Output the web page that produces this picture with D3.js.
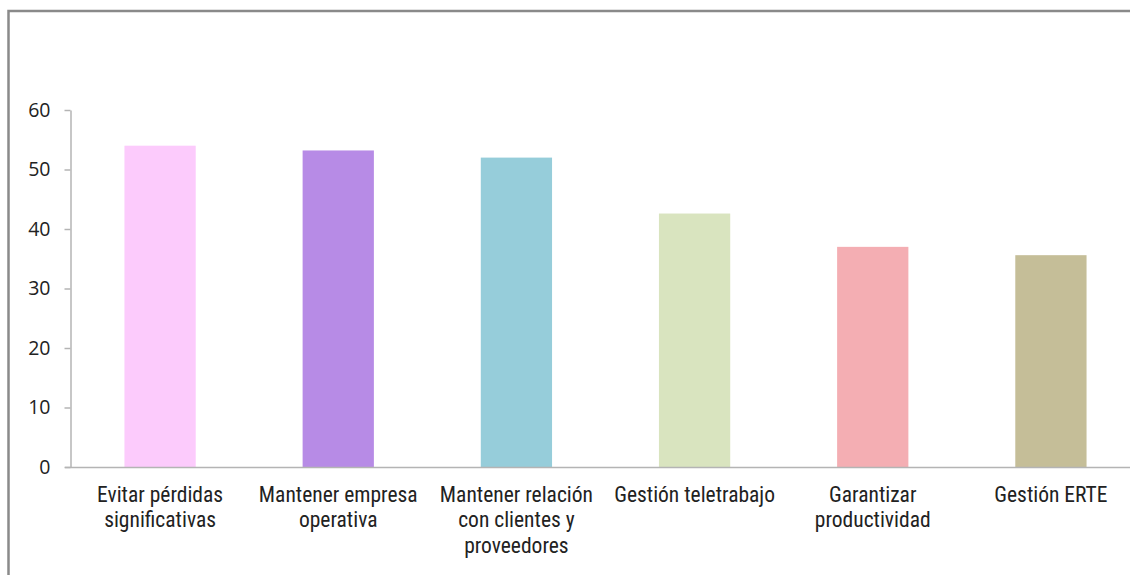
<!DOCTYPE html>
<html>
<head>
<meta charset="utf-8">
<script src="https://cdn.jsdelivr.net/npm/d3@7"></script>
<style>
  html, body { margin: 0; padding: 0; background: #fff; }
  svg { display: block; }
</style>
</head>
<body>
<svg id="chart" width="1130" height="575"></svg>
<script>
// Categories (each label split into its display lines)
const categories = [
  ["Evitar pérdidas", "significativas"],
  ["Mantener empresa", "operativa"],
  ["Mantener relación", "con clientes y", "proveedores"],
  ["Gestión teletrabajo"],
  ["Garantizar", "productividad"],
  ["Gestión ERTE"]
];
const values = [54, 53.2, 52, 42.6, 37, 35.6];
const barColors = ["#fccbfc", "#b78be6", "#96cdda", "#d9e4bf", "#f4aeb3", "#c5be98"];
const yTicks = [0, 10, 20, 30, 40, 50, 60];

const svg = d3.select("#chart");
const W = 1130, H = 575;
const plot = { left: 71, right: 1140, top: 110, bottom: 467 };

// Outer frame (top and left edges)
svg.append("path")
  .attr("d", `M8.5,${H} L8.5,11 L${W},11`)
  .attr("fill", "none")
  .attr("stroke", "#8a8a8a")
  .attr("stroke-width", 2.5);

const keys = categories.map((c, i) => i);
const x = d3.scaleBand().domain(keys).range([plot.left, plot.right]).paddingInner(0.6).paddingOuter(0.3);
const y = d3.scaleLinear().domain([0, 60]).range([plot.bottom, plot.top]);

// Bars
svg.append("g").selectAll("rect")
  .data(values)
  .join("rect")
  .attr("x", (d, i) => x(i))
  .attr("width", x.bandwidth())
  .attr("y", d => y(d))
  .attr("height", d => y(0) - y(d))
  .attr("fill", (d, i) => barColors[i]);

// Y axis
const yAxis = svg.append("g")
  .attr("transform", `translate(${plot.left - 0.5},0)`)
  .call(d3.axisLeft(y).tickValues(yTicks).tickSize(6).tickPadding(14).tickSizeOuter(0));
yAxis.select(".domain").attr("stroke", "#b4b4b4").attr("stroke-width", 1.5);
yAxis.selectAll(".tick line").attr("stroke", "#b4b4b4").attr("stroke-width", 1.5);
yAxis.selectAll(".tick text")
  .attr("fill", "#222")
  .style("font-family", "'Open Sans', 'DejaVu Sans', sans-serif")
  .style("font-size", "19.5px");

// X axis baseline
svg.append("line")
  .attr("x1", plot.left - 6).attr("x2", W)
  .attr("y1", plot.bottom + 0.5).attr("y2", plot.bottom + 0.5)
  .attr("stroke", "#b4b4b4").attr("stroke-width", 1.5);

// Category labels
const lbl = svg.append("g")
  .style("font-family", "'Roboto Condensed', Roboto, sans-serif")
  .style("font-size", "21.5px")
  .attr("fill", "#222");
categories.forEach((lines, i) => {
  const cx = x(i) + x.bandwidth() / 2;
  const t = lbl.append("text")
    .attr("text-anchor", "middle")
    .attr("x", cx)
    .attr("y", 501.5);
  lines.forEach((ln, j) => {
    t.append("tspan")
      .attr("x", cx)
      .attr("dy", j === 0 ? 0 : 25.6)
      .text(ln);
  });
});
</script>
</body>
</html>
